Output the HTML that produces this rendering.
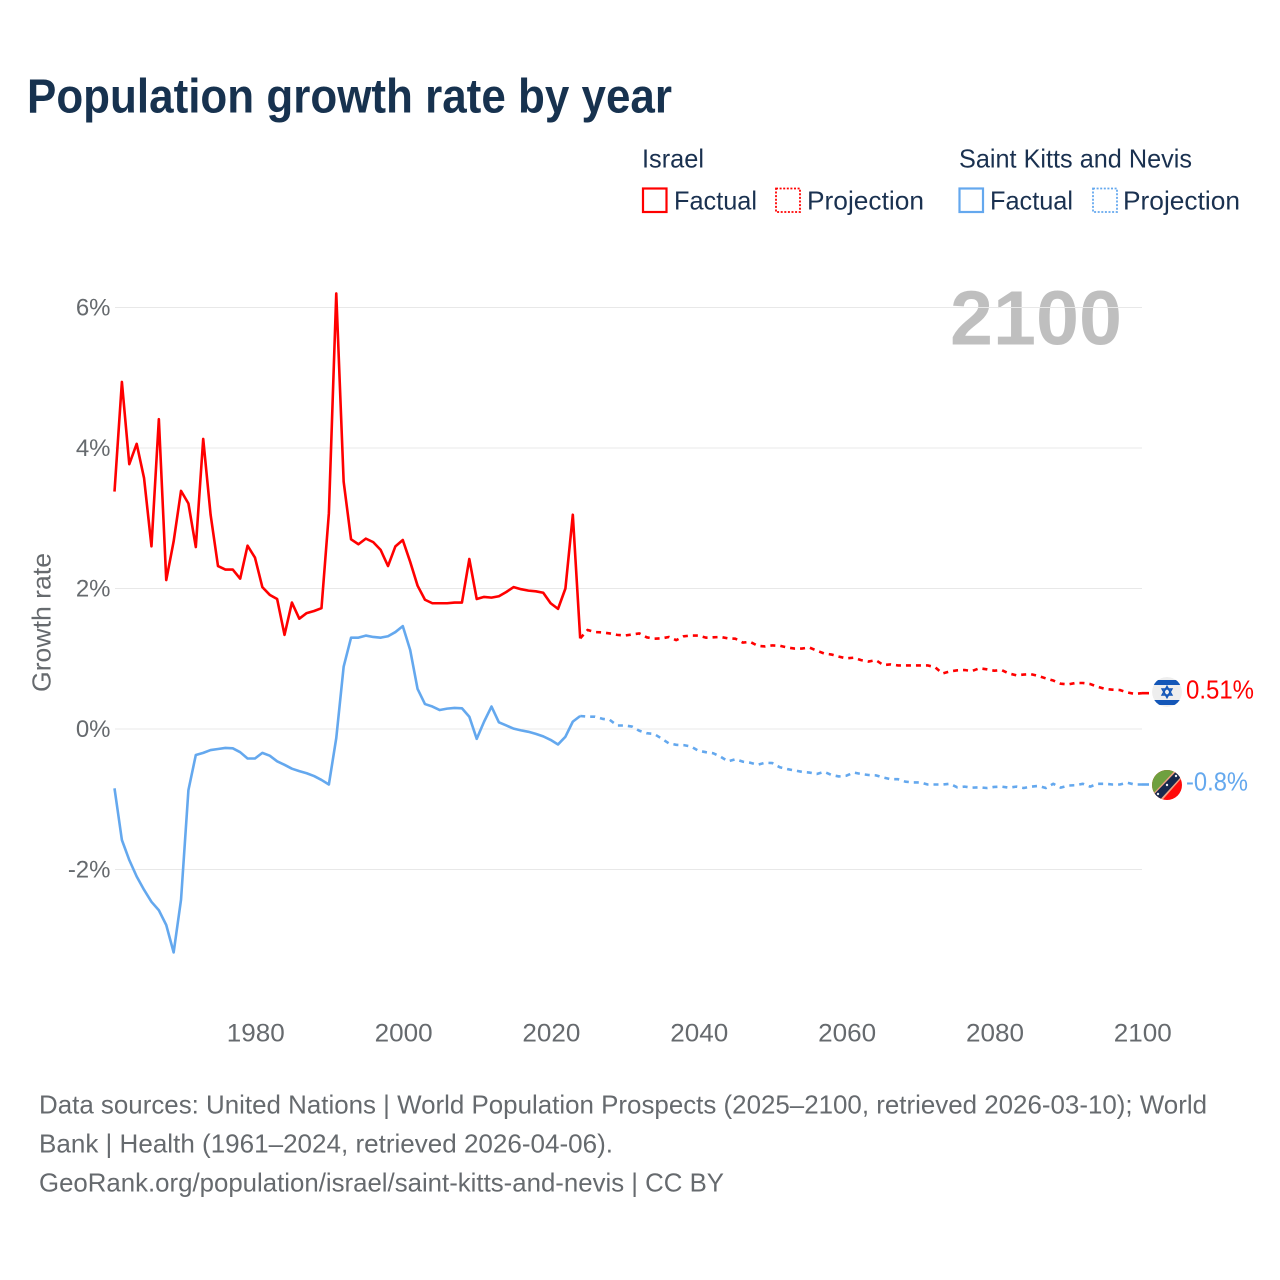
<!DOCTYPE html>
<html lang="en">
<head>
<meta charset="utf-8">
<title>Population growth rate by year</title>
<style>
html,body{margin:0;padding:0;background:#fff;width:1280px;height:1280px;overflow:hidden}
svg{display:block}
text{font-family:"Liberation Sans",sans-serif}
.legend{fill:#1a3150;font-size:26px}
.tick{fill:#666a6e;font-size:25px}
.ytick{fill:#666a6e;font-size:24px}
.foot{fill:#666a6e;font-size:26px}
</style>
</head>
<body>
<svg id="chart" xmlns="http://www.w3.org/2000/svg" width="1280" height="1280" viewBox="0 0 1280 1280">
  <defs>
    <clipPath id="flag-clip-a"><circle cx="1167" cy="692" r="15"/></clipPath>
    <clipPath id="flag-clip-b"><circle cx="1167" cy="785" r="15"/></clipPath>
  </defs>
  <rect width="1280" height="1280" fill="#fff"/>
  <text x="27" y="112.5" font-size="48" font-weight="700" fill="#17324f" textLength="645" lengthAdjust="spacingAndGlyphs">Population growth rate by year</text>

  <g>
    <text class="legend" x="642" y="167.5" textLength="62" lengthAdjust="spacingAndGlyphs">Israel</text>
    <rect x="643" y="188.5" width="23.5" height="23.5" fill="none" stroke="#ff0000" stroke-width="2.2"/>
    <text class="legend" x="674" y="209.5" textLength="83" lengthAdjust="spacingAndGlyphs">Factual</text>
    <rect x="776" y="188.5" width="24" height="23.5" fill="none" stroke="#ff0000" stroke-width="1.8" stroke-dasharray="2 1.6"/>
    <text class="legend" x="807" y="209.5" textLength="117" lengthAdjust="spacingAndGlyphs">Projection</text>
    <text class="legend" x="959" y="167.5" textLength="233" lengthAdjust="spacingAndGlyphs">Saint Kitts and Nevis</text>
    <rect x="959.5" y="188.5" width="23.5" height="23.5" fill="none" stroke="#64a8ee" stroke-width="2.2"/>
    <text class="legend" x="990" y="209.5" textLength="83" lengthAdjust="spacingAndGlyphs">Factual</text>
    <rect x="1093" y="188.5" width="24" height="23.5" fill="none" stroke="#64a8ee" stroke-width="1.8" stroke-dasharray="2 1.6"/>
    <text class="legend" x="1123" y="209.5" textLength="117" lengthAdjust="spacingAndGlyphs">Projection</text>
  </g>

  <text x="950" y="344.5" font-size="77" font-weight="700" fill="#000" fill-opacity="0.25" textLength="172" lengthAdjust="spacingAndGlyphs">2100</text>
  <g id="grid"></g>
  <g id="yticks"></g>
  <g id="xticks"></g>
  <text transform="translate(50.5 622.5) rotate(-90)" text-anchor="middle" font-size="26" fill="#666a6e" textLength="139" lengthAdjust="spacingAndGlyphs">Growth rate</text>
  <g id="series"></g>

  <g clip-path="url(#flag-clip-a)">
    <circle cx="1167" cy="692" r="15" fill="#eeeeee"/>
    <rect x="1152" y="680" width="30" height="5" fill="#1457b8"/>
    <rect x="1152" y="700" width="30" height="5" fill="#1457b8"/>
    <polygon points="1167,686.5 1171.8,695 1162.2,695" fill="none" stroke="#1457b8" stroke-width="1.6"/>
    <polygon points="1167,697.5 1171.8,689 1162.2,689" fill="none" stroke="#1457b8" stroke-width="1.6"/>
  </g>
  <g clip-path="url(#flag-clip-b)">
    <rect x="1151" y="769" width="32" height="32" fill="#ff0a0a"/>
    <polygon points="1151,769 1183,769 1151,801" fill="#6fa03f"/>
    <polygon points="1180,765 1187,772 1158,805 1150,797" fill="#f0a080"/>
    <polygon points="1180,767.5 1185,772.5 1157,803 1151,797.5" fill="#17294d"/>
    <circle cx="1176" cy="776" r="1.2" fill="#eee"/>
    <circle cx="1167" cy="785" r="1.2" fill="#eee"/>
    <circle cx="1158" cy="794" r="1.2" fill="#eee"/>
  </g>
  <text x="1186" y="698.5" font-size="26" fill="#ff0000" textLength="68" lengthAdjust="spacingAndGlyphs">0.51%</text>
  <text x="1186" y="790.5" font-size="26" fill="#64a8ee" textLength="62" lengthAdjust="spacingAndGlyphs">-0.8%</text>

  <g>
    <text class="foot" x="39" y="1113.5" textLength="1168" lengthAdjust="spacingAndGlyphs">Data sources: United Nations | World Population Prospects (2025–2100, retrieved 2026-03-10); World</text>
    <text class="foot" x="39" y="1152.5" textLength="574" lengthAdjust="spacingAndGlyphs">Bank | Health (1961–2024, retrieved 2026-04-06).</text>
    <text class="foot" x="39" y="1191.5" textLength="685" lengthAdjust="spacingAndGlyphs">GeoRank.org/population/israel/saint-kitts-and-nevis | CC BY</text>
  </g>
</svg>
<script>
const firstYear = 1961;
const lastFactualYear = 2024;
const xTickYears = [1980, 2000, 2020, 2040, 2060, 2080, 2100];
const yTickValues = [-2, 0, 2, 4, 6];
const yTickLabels = ['-2%', '0%', '2%', '4%', '6%'];
const israelFactual = [3.38,4.94,3.77,4.06,3.57,2.60,4.41,2.12,2.67,3.39,3.21,2.59,4.13,3.05,2.32,2.27,2.27,2.14,2.61,2.44,2.02,1.91,1.85,1.34,1.80,1.57,1.65,1.68,1.72,3.07,6.20,3.52,2.70,2.63,2.71,2.66,2.55,2.32,2.60,2.69,2.38,2.04,1.84,1.79,1.79,1.79,1.80,1.80,2.42,1.85,1.88,1.87,1.89,1.95,2.02,1.99,1.97,1.96,1.94,1.79,1.71,2.00,3.05,1.29];
const israelProjection = [1.41,1.38,1.375,1.36,1.34,1.33,1.345,1.36,1.305,1.285,1.29,1.31,1.265,1.32,1.33,1.33,1.30,1.305,1.31,1.29,1.285,1.23,1.24,1.185,1.175,1.19,1.185,1.16,1.145,1.145,1.16,1.115,1.075,1.06,1.03,1.005,1.015,0.98,0.96,0.98,0.91,0.92,0.905,0.905,0.905,0.905,0.905,0.88,0.79,0.82,0.835,0.84,0.825,0.865,0.85,0.83,0.84,0.79,0.765,0.775,0.78,0.755,0.72,0.69,0.645,0.635,0.655,0.655,0.64,0.60,0.57,0.56,0.555,0.52,0.50,0.51];
const sknFactual = [-0.845,-1.58,-1.865,-2.10,-2.29,-2.46,-2.58,-2.79,-3.18,-2.43,-0.87,-0.37,-0.34,-0.30,-0.285,-0.27,-0.275,-0.33,-0.42,-0.42,-0.34,-0.38,-0.46,-0.51,-0.565,-0.60,-0.63,-0.67,-0.725,-0.79,-0.13,0.887,1.30,1.30,1.33,1.31,1.30,1.32,1.38,1.465,1.125,0.57,0.355,0.32,0.27,0.29,0.30,0.295,0.175,-0.14,0.105,0.32,0.095,0.05,0.005,-0.02,-0.04,-0.07,-0.105,-0.155,-0.22,-0.11,0.105,0.185];
const sknProjection = [0.175,0.175,0.145,0.13,0.05,0.05,0.035,-0.025,-0.06,-0.07,-0.135,-0.205,-0.225,-0.23,-0.25,-0.31,-0.33,-0.345,-0.395,-0.46,-0.43,-0.465,-0.48,-0.51,-0.48,-0.485,-0.545,-0.57,-0.59,-0.61,-0.62,-0.64,-0.61,-0.655,-0.675,-0.665,-0.62,-0.64,-0.655,-0.66,-0.69,-0.715,-0.715,-0.75,-0.76,-0.76,-0.79,-0.79,-0.79,-0.78,-0.83,-0.82,-0.835,-0.83,-0.84,-0.825,-0.82,-0.835,-0.82,-0.84,-0.82,-0.81,-0.84,-0.78,-0.835,-0.805,-0.80,-0.78,-0.82,-0.78,-0.78,-0.79,-0.79,-0.765,-0.79,-0.79];

const NS = 'http://www.w3.org/2000/svg';
const xScale = function (year) { return 114.5 + (year - firstYear) * (1142 - 114.5) / (2100 - firstYear); };
const yScale = function (value) { return 729 - value * 70.25; };

const grid = document.getElementById('grid');
const yticks = document.getElementById('yticks');
yTickValues.forEach(function (v, i) {
  const line = document.createElementNS(NS, 'line');
  
  
  line.setAttribute('x1', 115);
  line.setAttribute('x2', 1142);
  line.setAttribute('y1', yScale(v));
  line.setAttribute('y2', yScale(v));
  line.setAttribute('stroke', '#e8e8e8');
  line.setAttribute('stroke-width', '1');
  grid.appendChild(line);
  const t = document.createElementNS(NS, 'text');
  
  
  t.setAttribute('class', 'ytick');
  t.setAttribute('x', 110.5);
  t.setAttribute('y', yScale(v) + 8);
  t.setAttribute('text-anchor', 'end');
  t.textContent = yTickLabels[i];
  yticks.appendChild(t);
});

const xticks = document.getElementById('xticks');
xTickYears.forEach(function (year) {
  const t = document.createElementNS(NS, 'text');
  
  
  t.setAttribute('class', 'tick');
  t.setAttribute('x', xScale(year) + 0.8);
  t.setAttribute('y', 1041.5);
  t.setAttribute('text-anchor', 'middle');
  t.setAttribute('textLength', '58');
  t.setAttribute('lengthAdjust', 'spacingAndGlyphs');
  t.textContent = year;
  xticks.appendChild(t);
});

function linePath(values, startYear) {
  return values.map(function (v, i) {
    return (i ? 'L' : 'M') + xScale(startYear + i).toFixed(2) + ' ' + yScale(v).toFixed(2);
  }).join(' ');
}
const series = document.getElementById('series');
function addLine(name, d, color, dash) {
  const p = document.createElementNS(NS, 'path');
  
  
  p.setAttribute('d', d);
  p.setAttribute('fill', 'none');
  p.setAttribute('stroke', color);
  p.setAttribute('stroke-width', '2.6');
  p.setAttribute('stroke-linejoin', 'round');
  if (dash) { p.setAttribute('stroke-dasharray', dash); }
  series.appendChild(p);
}
const RED = '#ff0000';
const BLUE = '#64a8ee';
addLine('line-israel-factual', linePath(israelFactual, firstYear), RED);
addLine('line-israel-projection', linePath([israelFactual[israelFactual.length - 1]].concat(israelProjection), lastFactualYear), RED, '5 5');
addLine('line-skn-factual', linePath(sknFactual, firstYear), BLUE);
addLine('line-skn-projection', linePath([sknFactual[sknFactual.length - 1]].concat(sknProjection), lastFactualYear), BLUE, '5 5');
addLine('connector-israel', 'M' + xScale(2100) + ' ' + yScale(israelProjection[israelProjection.length - 1]) + ' H1149', RED);
addLine('connector-skn', 'M' + xScale(2100) + ' ' + yScale(sknProjection[sknProjection.length - 1]) + ' H1149', BLUE);
</script>
</body>
</html>
